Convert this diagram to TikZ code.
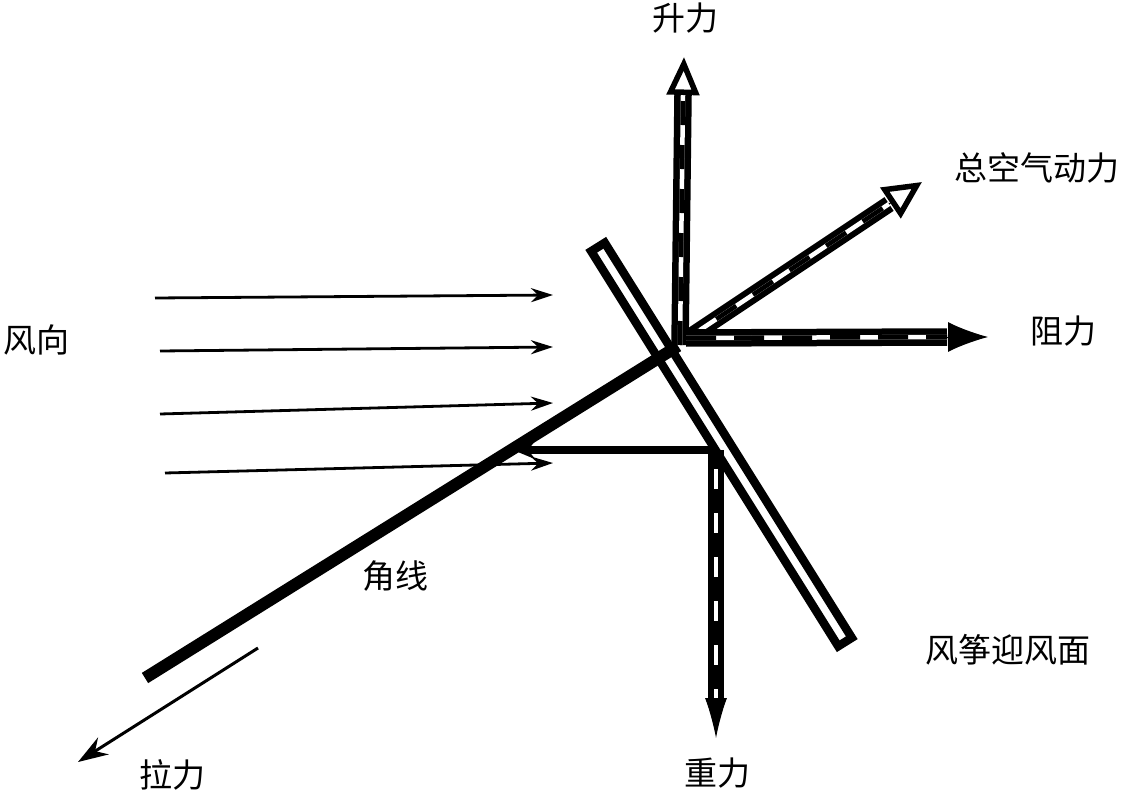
\documentclass[tikz,border=0pt]{standalone}
\usepackage{fontspec}
\newfontfamily\cjk{Noto Sans CJK SC}
\usetikzlibrary{arrows.meta,calc}
\begin{document}
\begin{tikzpicture}[x=1pt,y=-1pt,
    lbl/.style={font=\cjk\fontsize{33}{38}\selectfont, inner sep=0pt},
    wind/.style={line width=2.8pt, -{Stealth[length=22pt,width=14pt]}},
    shaft/.style={line width=6.5pt, double distance=4.5pt, line cap=butt},
    shaftdash/.style={line width=4.5pt, dash pattern=on 24pt off 20pt},
    openhead/.style={line width=1pt, -{Triangle[length=38pt,width=#1,fill=white,line width=5.5pt]}},
    solidhead/.style={line width=1pt, -{Latex[length=40pt,width=#1]}}]
\useasboundingbox (0,0) rectangle (1132,794);
\coordinate (C) at (680,345);
\coordinate (surftop) at (598,247);
\coordinate (surfbot) at (845,642);
\coordinate (linebot) at (145,678);
\coordinate (linetop) at (678,346);
\coordinate (liftbase) at (683,95);
\coordinate (lifttip) at (684,57);
\coordinate (totstart) at (688,338);
\coordinate (totbase) at (889,204);
\coordinate (tottip) at (922,182);
\coordinate (dragstart) at (686,338);
\coordinate (dragbase) at (947,337);
\coordinate (dragtip) at (988,337);
\coordinate (gravtop) at (716,450);
\coordinate (gravbase) at (716,700);
\coordinate (gravtip) at (716,738);
\coordinate (horztip) at (513,450);
\coordinate (pullstart) at (258,648);
\coordinate (pulltip) at (78,762);
\coordinate (w1s) at (155,298); \coordinate (w1e) at (553,295);
\coordinate (w2s) at (160,351); \coordinate (w2e) at (553,347);
\coordinate (w3s) at (160,414); \coordinate (w3e) at (553,403);
\coordinate (w4s) at (165,473); \coordinate (w4e) at (553,463);
% wind
\foreach \i in {1,...,4}
  \draw[wind] (w\i s) -- (w\i e);
% kite surface and line
\draw[line width=8.5pt, line join=miter]
  ($(surftop)!8pt!90:(surfbot)$) -- ($(surfbot)!8pt!-90:(surftop)$)
  -- ($(surfbot)!8pt!90:(surftop)$) -- ($(surftop)!8pt!-90:(surfbot)$) -- cycle;
\draw[line width=12pt] (linebot) -- (linetop);
\draw[line width=3pt, -{Stealth[length=30pt,width=20pt]}] (pullstart) -- (pulltip);
% forces
\draw[shaft] (C) -- (liftbase);
\draw[shaftdash] (C) -- (liftbase);
\draw[openhead=32pt] (liftbase) -- (lifttip);
\draw[shaft, line width=6pt] (totstart) -- (totbase);
\draw[shaftdash, dash phase=10pt] (totstart) -- (totbase);
\draw[openhead=36pt] (totbase) -- (tottip);
\draw[shaft] (dragstart) -- (dragbase);
\draw[shaftdash, dash pattern=on 30pt off 18pt] (dragstart) -- (dragbase);
\draw[solidhead=30pt] (dragbase) -- (dragtip);
\draw[line width=8pt, -{Stealth[length=22pt,width=18pt]}] (gravtop) -- (horztip);
\draw[shaft, line width=6pt] (gravtop) -- (gravbase);
\draw[shaftdash, dash phase=5pt] (gravtop) -- (gravbase);
\draw[solidhead=22pt] (gravbase) -- (gravtip);
% labels
\node[lbl] (windlbl) at (36,340) {风向};
\node[lbl] (liftlbl) at (685,18) {升力};
\node[lbl] (totlbl) at (1037,168) {总空气动力};
\node[lbl] (draglbl) at (1063,331) {阻力};
\node[lbl] (linelbl) at (395,576) {角线};
\node[lbl] (surflbl) at (1008,650) {风筝迎风面};
\node[lbl] (gravlbl) at (717,773) {重力};
\node[lbl] (pulllbl) at (172,775) {拉力};
\end{tikzpicture}
\end{document}
